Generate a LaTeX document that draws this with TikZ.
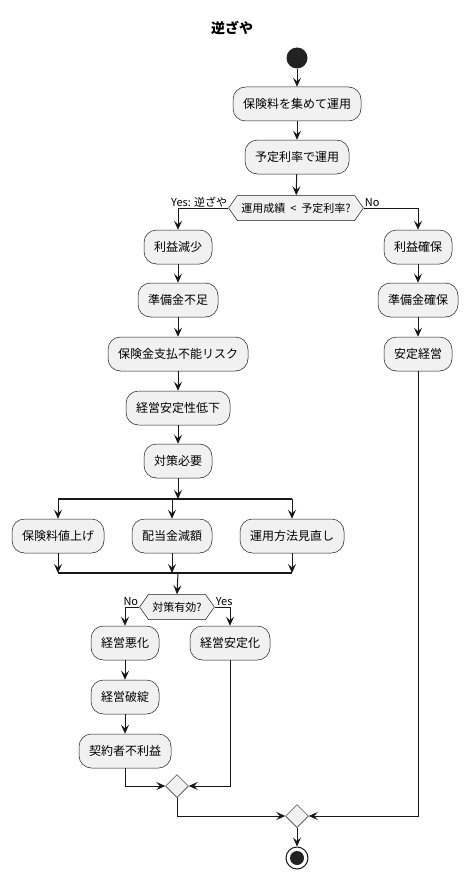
\documentclass[tikz,border=0pt]{standalone}
\usepackage{fontspec}
\setmainfont{Noto Sans CJK JP}
\usetikzlibrary{arrows.meta,shapes.geometric,shapes.symbols}
\definecolor{boxfill}{HTML}{F1F1F1}
\definecolor{lin}{HTML}{181818}
\definecolor{dot}{HTML}{222222}
\tikzset{
  act/.style={draw=lin, line width=0.5pt, fill=boxfill, rounded corners=12.5pt,
    minimum height=34pt, inner xsep=10pt, font=\fontsize{12}{14}\selectfont, text=black},
  hexa/.style={draw=lin, line width=0.5pt, fill=boxfill, shape=signal, signal to=west and east,
    signal pointer angle=110, minimum height=25pt, inner xsep=4pt, inner ysep=2pt,
    font=\fontsize{11}{13}\selectfont},
  merge/.style={draw=lin, line width=0.5pt, fill=boxfill, shape=diamond, minimum size=23pt, inner sep=0pt},
  flow/.style={draw=lin, line width=1pt, -{Stealth[length=9pt,width=8pt,inset=3.5pt]}},
  bar/.style={draw=lin, line width=2pt},
  lbl/.style={font=\fontsize{11}{13}\selectfont, inner sep=1pt}
}
\begin{document}
\begin{tikzpicture}[x=1pt,y=-1pt]
\useasboundingbox (0,0) rectangle (467,880);
\node[font=\fontsize{14}{16}\selectfont\bfseries] (title) at (232,28) {逆ざや};
\node[circle, fill=dot, minimum size=21pt, inner sep=0pt] (start) at (297,58) {};
\node[act] (b1) at (297,104) {保険料を集めて運用};
\node[act] (b2) at (297,157) {予定利率で運用};
\node[hexa] (d1) at (296,208) {運用成績\hspace{5pt}<\hspace{5pt}予定利率?};
\node[act] (l1) at (178,247) {利益減少};
\node[act] (l2) at (178,300) {準備金不足};
\node[act] (l3) at (178,354) {保険金支払不能リスク};
\node[act] (l4) at (178,408) {経営安定性低下};
\node[act] (l5) at (178,461) {対策必要};
\node[act] (r1) at (418,247) {利益確保};
\node[act] (r2) at (418,300) {準備金確保};
\node[act] (r3) at (418,354) {安定経営};
\coordinate (fk) at (178,499);
\coordinate (fkL) at (58,499);
\coordinate (fkR) at (292,499);
\node[act] (p1) at (58,536) {保険料値上げ};
\node[act] (p2) at (172,536) {配当金減額};
\node[act] (p3) at (292,536) {運用方法見直し};
\coordinate (jn) at (178,573);
\coordinate (jnL) at (58,573);
\coordinate (jnR) at (292,573);
\node[hexa] (d2) at (177,607) {対策有効?};
\node[act] (n1) at (125,643) {経営悪化};
\node[act] (n2) at (125,697) {経営破綻};
\node[act] (n3) at (125,751) {契約者不利益};
\node[act] (y1) at (230,643) {経営安定化};
\node[merge] (m1) at (177,786) {};
\node[merge] (m2) at (297,816) {};
\node[circle, draw=lin, line width=1pt, fill=white, minimum size=22pt, inner sep=0pt] (stop) at (297,858) {};
\node[circle, fill=dot, minimum size=14pt, inner sep=0pt] (stopin) at (297,858) {};

\draw[flow] (start) -- (b1);
\draw[flow] (b1) -- (b2);
\draw[flow] (b2) -- (d1);
\draw[flow] (d1.west) -| (l1.north);
\draw[flow] (d1.east) -| (r1.north);
\node[lbl, anchor=south east] (yes1) at (d1.west) {Yes: 逆ざや};
\node[lbl, anchor=south west] (no1) at (d1.east) {No};
\draw[flow] (l1) -- (l2);
\draw[flow] (l2) -- (l3);
\draw[flow] (l3) -- (l4);
\draw[flow] (l4) -- (l5);
\draw[flow] (r1) -- (r2);
\draw[flow] (r2) -- (r3);
\draw[flow] (l5) -- (fk);
\draw[bar] (fkL) -- (fkR);
\draw[flow] (p1.north |- fk) -- (p1.north);
\draw[flow] (p2.north |- fk) -- (p2.north);
\draw[flow] (p3.north |- fk) -- (p3.north);
\draw[flow] (p1.south) -- (p1.south |- jn);
\draw[flow] (p2.south) -- (p2.south |- jn);
\draw[flow] (p3.south) -- (p3.south |- jn);
\draw[bar] (jnL) -- (jnR);
\draw[flow] (jn) -- (d2.north);
\draw[flow] (d2.west) -| (n1.north);
\draw[flow] (d2.east) -| (y1.north);
\node[lbl, anchor=south east] (no2) at (d2.west) {No};
\node[lbl, anchor=south west] (yes2) at (d2.east) {Yes};
\draw[flow] (n1) -- (n2);
\draw[flow] (n2) -- (n3);
\draw[flow] (n3.south) |- (m1.west);
\draw[flow] (y1.south) |- (m1.east);
\draw[flow] (m1.south) |- (m2.west);
\draw[flow] (r3.south) |- (m2.east);
\draw[flow] (m2.south) -- (stop.north);
\end{tikzpicture}
\end{document}
